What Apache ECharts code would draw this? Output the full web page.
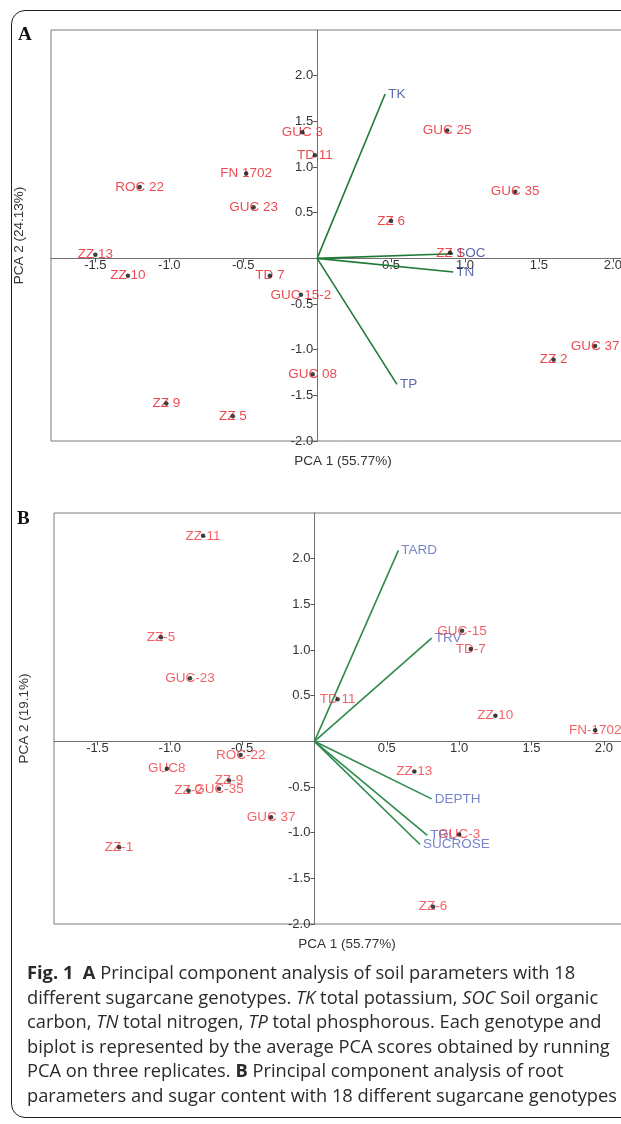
<!DOCTYPE html>
<html>
<head>
<meta charset="utf-8">
<script src="https://cdn.jsdelivr.net/npm/echarts@6/dist/echarts.min.js"></script>
<style>
  html, body { margin:0; padding:0; width:621px; height:1124px; overflow:hidden; background:#fff; }
  #chart { position:absolute; left:0; top:0; width:621px; height:1124px; }
  #frame { position:absolute; left:11px; top:10px; width:660px; height:1108px; border:1.4px solid #1e1e1e; border-radius:14px; box-sizing:border-box; pointer-events:none; }
  #caption { position:absolute; left:27px; top:960px; font-family:'Open Sans', sans-serif; font-size:18.3px; line-height:24.5px; color:#2a2a2a; white-space:nowrap; }
  #caption b { font-weight:700; }
</style>
</head>
<body>
<div id="chart"></div>
<div id="frame"></div>
<div id="caption">
<b>Fig. 1</b>&nbsp; <b>A</b> Principal component analysis of soil parameters with 18<br>
different sugarcane genotypes. <i>TK</i> total potassium, <i>SOC</i> Soil organic<br>
carbon, <i>TN</i> total nitrogen, <i>TP</i> total phosphorous. Each genotype and<br>
biplot is represented by the average PCA scores obtained by running<br>
PCA on three replicates. <b>B</b> Principal component analysis of root<br>
parameters and sugar content with 18 different sugarcane genotypes
</div>
<script>
// ---- Panel A: soil parameters ----
const genotypesA = ['GUC 3','TD 11','FN 1702','ROC 22','GUC 23','ZZ 13','ZZ 10','TD 7','GUC 15-2','GUC 08','ZZ 9','ZZ 5','GUC 25','GUC 35','ZZ 6','ZZ 1','ZZ 2','GUC 37'];
const pc1A = [-0.10,-0.015,-0.48,-1.20,-0.43,-1.50,-1.28,-0.32,-0.11,-0.03,-1.02,-0.57,0.88,1.34,0.50,0.90,1.60,1.88];
const pc2A = [1.38,1.13,0.93,0.78,0.56,0.04,-0.19,-0.19,-0.40,-1.27,-1.59,-1.73,1.40,0.73,0.41,0.06,-1.11,-0.96];
const variablesA = ['TK','SOC','TN','TP'];
const loading1A = [0.46,0.92,0.92,0.54];
const loading2A = [1.80,0.05,-0.15,-1.38];

// ---- Panel B: root parameters and sugar content ----
const genotypesB = ['ZZ-11','ZZ-5','GUC-23','TD 11','GUC-15','TD-7','ZZ-10','FN-1702','ROC-22','GUC8','ZZ-9','ZZ-2','GUC-35','GUC 37','ZZ-1','ZZ-13','GUC-3','ZZ-6'];
const pc1B = [-0.77,-1.06,-0.86,0.16,1.02,1.08,1.25,1.94,-0.51,-1.02,-0.59,-0.87,-0.66,-0.30,-1.35,0.69,1.00,0.82];
const pc2B = [2.25,1.14,0.69,0.46,1.21,1.01,0.28,0.12,-0.15,-0.30,-0.43,-0.54,-0.52,-0.83,-1.16,-0.33,-1.02,-1.81];
const variablesB = ['TARD','TRV','DEPTH','TRL','SUCROSE'];
const loading1B = [0.58,0.81,0.81,0.78,0.73];
const loading2B = [2.09,1.13,-0.63,-1.03,-1.13];

// ---- Axis tick labels ----
const xTicks = [-1.5,-1.0,-0.5,0.5,1.0,1.5,2.0];
const yTicks = [-2.0,-1.5,-1.0,-0.5,0.5,1.0,1.5,2.0];

const FONT = "'Liberation Sans', Arial, sans-serif";

function xAxisCfg(gi, min, max) {
  return {
    gridIndex: gi, type: 'value', min: min, max: max, position: 'bottom', offset: 0,
    axisLine: { show: true, onZero: false, lineStyle: { color: '#707070', width: 1 } },
    axisTick: { show: true, customValues: xTicks, length: 4, lineStyle: { color: '#555' } },
    axisLabel: { customValues: xTicks, formatter: v => v.toFixed(1), margin: 1, fontSize: 13, color: '#333', fontFamily: FONT },
    splitLine: { show: false }
  };
}
function yAxisCfg(gi) {
  return {
    gridIndex: gi, type: 'value', min: -2, max: 2.5, position: 'left', offset: 0,
    axisLine: { show: true, onZero: false, lineStyle: { color: '#707070', width: 1 } },
    axisTick: { show: true, customValues: yTicks, length: 4, lineStyle: { color: '#555' } },
    axisLabel: { customValues: yTicks, formatter: v => v.toFixed(1), margin: 4, fontSize: 13, color: '#333', fontFamily: FONT },
    splitLine: { show: false }
  };
}

function panelSeries(gi, names, xs, ys, vars, l1, l2, red, blue, green) {
  const pts = names.map((n, i) => ({ name: n, value: [xs[i], ys[i]] }));
  const vecs = vars.map((n, i) => ({ name: n, coords: [[0, 0], [l1[i], l2[i]]] }));
  const ends = vars.map((n, i) => ({ name: n, value: [l1[i], l2[i]] }));
  return [
    { type: 'lines', coordinateSystem: 'cartesian2d', xAxisIndex: gi, yAxisIndex: gi, z: 3,
      lineStyle: { color: green, width: 1.6, opacity: 1 }, data: vecs, silent: true },
    { type: 'scatter', xAxisIndex: gi, yAxisIndex: gi, symbolSize: 0, z: 4, data: ends,
      label: { show: true, position: 'right', distance: 3, formatter: p => p.name, color: blue, fontSize: 13.5, fontFamily: FONT } },
    { type: 'scatter', xAxisIndex: gi, yAxisIndex: gi, symbolSize: 0, z: 4, data: pts,
      label: { show: true, position: 'inside', formatter: p => p.name, color: red, fontSize: 13.5, fontFamily: FONT } },
    { type: 'scatter', xAxisIndex: gi, yAxisIndex: gi, symbol: 'circle', symbolSize: 4.5, z: 6, data: pts,
      itemStyle: { color: '#111' } }
  ];
}

const chart = echarts.init(document.getElementById('chart'), null, { renderer: 'canvas' });
chart.setOption({
  animation: false,
  grid: [
    { left: 51, top: 30, width: 584, height: 411, show: true, borderColor: '#7a7a7a', borderWidth: 1, outerBoundsMode: 'none', containLabel: false },
    { left: 54, top: 513, width: 586, height: 411, show: true, borderColor: '#7a7a7a', borderWidth: 1, outerBoundsMode: 'none', containLabel: false }
  ],
  xAxis: [ xAxisCfg(0, -1.8, 2.15), xAxisCfg(1, -1.8, 2.25) ],
  yAxis: [ yAxisCfg(0), yAxisCfg(1) ],
  series: [].concat(
    panelSeries(0, genotypesA, pc1A, pc2A, variablesA, loading1A, loading2A, '#e81c24', '#34449a', '#1f7a37'),
    panelSeries(1, genotypesB, pc1B, pc2B, variablesB, loading1B, loading2B, '#f03a40', '#5565bd', '#2e8b4c')
  ),
  graphic: [
    { type: 'text', left: 18, top: 26, style: { text: 'A', font: 'bold 19px "Liberation Serif", serif', fill: '#111' } },
    { type: 'text', left: 17, top: 510, style: { text: 'B', font: 'bold 19px "Liberation Serif", serif', fill: '#111' } },
    { type: 'text', x: 19, y: 235.5, rotation: Math.PI / 2, style: { text: 'PCA 2 (24.13%)', font: '13.5px ' + FONT, fill: '#333', align: 'center', verticalAlign: 'middle' } },
    { type: 'text', x: 24, y: 718.5, rotation: Math.PI / 2, style: { text: 'PCA 2 (19.1%)', font: '13.5px ' + FONT, fill: '#333', align: 'center', verticalAlign: 'middle' } },
    { type: 'text', x: 343, y: 461, style: { text: 'PCA 1 (55.77%)', font: '13.5px ' + FONT, fill: '#333', align: 'center', verticalAlign: 'middle' } },
    { type: 'text', x: 347, y: 944, style: { text: 'PCA 1 (55.77%)', font: '13.5px ' + FONT, fill: '#333', align: 'center', verticalAlign: 'middle' } }
  ]
});

// Move each axis onto the zero line of the other axis, using the library's own scales.
const xs = [], ys = [];
[0, 1].forEach(gi => {
  const rect = chart.getModel().getComponent('grid', gi).coordinateSystem.getRect();
  const p0 = chart.convertToPixel({ gridIndex: gi }, [0, 0]);
  xs.push({ offset: -(rect.y + rect.height - p0[1]) });
  ys.push({ offset: -(p0[0] - rect.x) });
});
chart.setOption({ xAxis: xs, yAxis: ys });
</script>
</body>
</html>
